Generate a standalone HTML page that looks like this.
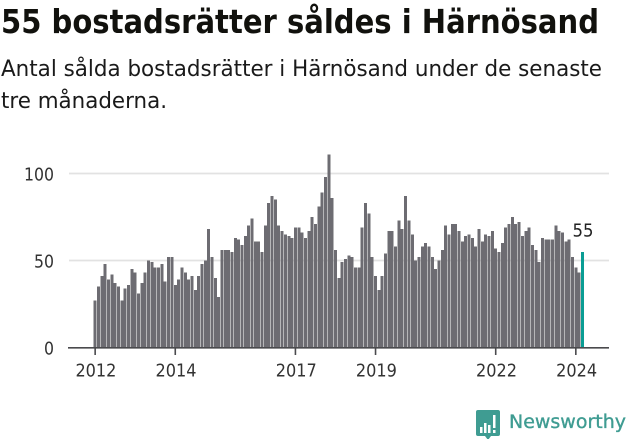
<!DOCTYPE html>
<html lang="sv">
<head>
<meta charset="utf-8">
<title>55 bostadsrätter såldes i Härnösand</title>
<style>
html,body{margin:0;padding:0;background:#fff;width:631px;height:439px;overflow:hidden}
svg{display:block}
text{font-family:"DejaVu Sans","Liberation Sans",sans-serif}
</style>
</head>
<body>
<svg id="chart" width="631" height="439" viewBox="0 0 631 439" xmlns="http://www.w3.org/2000/svg">
  <text x="1" y="33" font-size="33" font-weight="700" fill="#11110d" textLength="598" lengthAdjust="spacingAndGlyphs">55 bostadsrätter såldes i Härnösand</text>
  <text x="1" y="76" font-size="22.5" fill="#1a1a1a" textLength="601" lengthAdjust="spacingAndGlyphs">Antal sålda bostadsrätter i Härnösand under de senaste</text>
  <text x="1" y="108" font-size="22.5" fill="#1a1a1a" textLength="166" lengthAdjust="spacingAndGlyphs">tre månaderna.</text>
  <g id="grid"></g>
  <g id="bars"></g>
  <g id="axis"></g>
  <g id="ylabels"></g>
  <g>
    <path d="M478 410h20a2 2 0 0 1 2 2v22a2 2 0 0 1-2 2h-7l-3 4-3-4h-7a2 2 0 0 1-2-2v-22a2 2 0 0 1 2-2z" fill="#3f9c92"/>
    <g fill="#fff">
      <rect x="480" y="427" width="2.5" height="6"/>
      <rect x="484" y="423" width="2.5" height="10"/>
      <rect x="488" y="425" width="2.5" height="8"/>
      <rect x="493" y="415" width="2.5" height="13"/>
      <rect x="493" y="430" width="2.5" height="3"/>
    </g>
    <text x="509" y="428" font-size="18.5" fill="#3f9c92" stroke="#3f9c92" stroke-width="0.35" textLength="117" lengthAdjust="spacingAndGlyphs">Newsworthy</text>
  </g>
</svg>
<script>
const values = [27,35,41,48,39,42,37,35,27,34,36,45,43,31,37,43,50,49,46,46,48,38,52,52,
36,39,46,43,39,41,33,41,48,50,68,52,40,29,56,56,56,55,63,62,59,64,70,74,
61,61,55,70,83,87,85,70,67,65,64,63,69,69,66,63,67,75,71,81,89,98,111,86,
56,40,49,51,53,52,46,46,69,83,77,52,41,33,41,54,67,67,58,73,68,87,73,65,
50,52,58,60,58,52,45,50,56,70,65,71,71,67,61,64,65,63,58,68,61,65,64,67,
57,55,60,69,71,75,71,72,64,67,69,59,56,49,63,62,62,62,70,67,66,61,62,52,
46,43,55];
const startYear = 2012;
const xTickYears = [2012,2014,2017,2019,2022,2024];
const yTicks = [0,50,100];
const annotationLabel = "55";

const NS = "http://www.w3.org/2000/svg";
const monthStep = 3.338;
function xScale(monthIndex){ return 95.15 + monthIndex * monthStep; }
function yScale(v){ return 347.5 - v * 1.74; }

const grid = document.getElementById('grid');
const barsG = document.getElementById('bars');
const axis = document.getElementById('axis');
const ylabels = document.getElementById('ylabels');

yTicks.forEach(function(t){
  if (t > 0) {
    const l = document.createElementNS(NS,'line');
    
    
    l.setAttribute('x1', 69);
    l.setAttribute('x2', 609);
    l.setAttribute('y1', yScale(t));
    l.setAttribute('y2', yScale(t));
    l.setAttribute('stroke', '#e2e2e2');
    l.setAttribute('stroke-width', 1.7);
    grid.appendChild(l);
  }
  const tx = document.createElementNS(NS,'text');
  
  
  tx.setAttribute('x', 54);
  tx.setAttribute('y', yScale(t) + 7);
  tx.setAttribute('text-anchor', 'end');
  tx.setAttribute('font-size', 17.5);
  tx.setAttribute('fill', '#333');
  tx.setAttribute('textLength', String(t).length * 10);
  tx.setAttribute('lengthAdjust', 'spacingAndGlyphs');
  tx.textContent = t;
  ylabels.appendChild(tx);
});

values.forEach(function(v,i){
  const r = document.createElementNS(NS,'rect');
  const last = i === values.length - 1;
  
  
  r.setAttribute('x', xScale(i) - 1.5);
  r.setAttribute('y', yScale(v));
  r.setAttribute('width', 3);
  r.setAttribute('height', yScale(0) - yScale(v));
  r.setAttribute('fill', last ? '#0a9d94' : '#6d6c72');
  r.setAttribute('shape-rendering', 'crispEdges');
  barsG.appendChild(r);
});

const baseline = document.createElementNS(NS,'line');


baseline.setAttribute('x1', 68);
baseline.setAttribute('x2', 609);
baseline.setAttribute('y1', 347.8);
baseline.setAttribute('y2', 347.8);
baseline.setAttribute('stroke', '#4a4a4d');
baseline.setAttribute('stroke-width', 1.6);
axis.appendChild(baseline);

xTickYears.forEach(function(y){
  const x = xScale((y - startYear) * 12);
  const tick = document.createElementNS(NS,'line');
  
  
  tick.setAttribute('x1', x);
  tick.setAttribute('x2', x);
  tick.setAttribute('y1', 347);
  tick.setAttribute('y2', 355);
  tick.setAttribute('stroke', '#4a4a4d');
  tick.setAttribute('stroke-width', 1.6);
  axis.appendChild(tick);
  const tx = document.createElementNS(NS,'text');
  
  
  tx.setAttribute('x', x + 0.8);
  tx.setAttribute('y', 376.5);
  tx.setAttribute('text-anchor', 'middle');
  tx.setAttribute('font-size', 17.5);
  tx.setAttribute('fill', '#333');
  tx.setAttribute('textLength', 41);
  tx.setAttribute('lengthAdjust', 'spacingAndGlyphs');
  tx.textContent = y;
  axis.appendChild(tx);
});

const ann = document.createElementNS(NS,'text');


ann.setAttribute('x', xScale(values.length - 1) + 0.5);
ann.setAttribute('y', yScale(values[values.length - 1]) - 15.5);
ann.setAttribute('text-anchor', 'middle');
ann.setAttribute('font-size', 18);
ann.setAttribute('fill', '#222');
ann.setAttribute('textLength', 21);
ann.setAttribute('lengthAdjust', 'spacingAndGlyphs');
ann.textContent = annotationLabel;
axis.appendChild(ann);
</script>
</body>
</html>
